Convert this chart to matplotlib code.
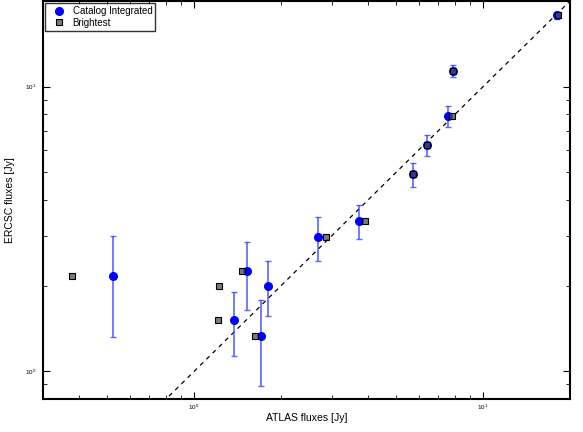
import matplotlib
matplotlib.use("Agg")
import matplotlib.pyplot as plt
import numpy as np

plt.rcParams['font.family'] = ['Liberation Sans', 'DejaVu Sans']

# catalog integrated fluxes (ATLAS x, ERCSC y, asymmetric errors)
cat_x = [0.525, 1.37, 1.53, 1.71, 1.80, 2.69, 3.73, 5.71, 6.39, 7.55, 7.89, 18.1]
cat_y = [2.16, 1.52, 2.25, 1.33, 2.00, 2.96, 3.38, 4.92, 6.24, 7.91, 11.37, 17.8]
cat_hi = [2.99, 1.90, 2.84, 1.78, 2.44, 3.48, 3.83, 5.40, 6.75, 8.55, 11.9, 18.3]
cat_lo = [1.32, 1.13, 1.64, 0.886, 1.56, 2.44, 2.92, 4.46, 5.71, 7.24, 10.83, 17.3]

# brightest source fluxes
br_x = [0.378, 1.22, 1.21, 1.47, 1.63, 2.86, 3.91, 5.71, 6.39, 7.79, 7.89, 18.2]
br_y = [2.16, 2.00, 1.52, 2.25, 1.33, 2.96, 3.38, 4.92, 6.24, 7.91, 11.37, 17.8]

cat_x = np.array(cat_x)
cat_y = np.array(cat_y)
yerr = [cat_y - np.array(cat_lo), np.array(cat_hi) - cat_y]

fig = plt.figure(figsize=(5.83, 4.32), dpi=100)
ax = fig.add_axes([43 / 583, 1 - 399 / 432, 527 / 583, 398 / 432])

ax.errorbar(cat_x, cat_y, yerr=yerr, fmt='none', ecolor=(0.2, 0.25, 1.0, 0.8),
            elinewidth=1.2, capsize=2.3, capthick=1.0, zorder=2)
ax.plot(cat_x, cat_y, 'o', color='blue', markersize=5.5, label='Catalog Integrated', zorder=3)
ax.plot(br_x, br_y, 's', markerfacecolor=(0.3, 0.3, 0.35, 0.75), markeredgecolor='black',
        markeredgewidth=0.8, markersize=4.2, label='Brightest', zorder=4)

line = np.array([0.3, 20.0])
ax.plot(line, line, '--', color='black', linewidth=0.9, dashes=(3.5, 3.5), zorder=1)

ax.set_xscale('log')
ax.set_yscale('log')
ax.set_xlim(0.3, 20)
ax.set_ylim(0.8, 20)

ax.tick_params(which='both', direction='in', top=True, right=True, labelsize=4.5)
ax.tick_params(which='major', length=5, width=0.8)
ax.tick_params(axis='y', which='major', pad=5)
ax.tick_params(axis='x', which='major', pad=3)
ax.tick_params(which='minor', length=3, width=0.6)
ax.xaxis.set_minor_formatter(matplotlib.ticker.NullFormatter())
ax.yaxis.set_minor_formatter(matplotlib.ticker.NullFormatter())
for s in ax.spines.values():
    s.set_linewidth(1.5)

ax.set_xlabel("ATLAS fluxes [Jy]", fontsize=7.5, labelpad=0.5)
ax.set_ylabel("ERCSC fluxes [Jy]", fontsize=7.5, labelpad=7)

leg = ax.legend(loc='upper left', fontsize=7.0, frameon=True, fancybox=False,
                borderpad=0.3, handletextpad=0.4, labelspacing=0.15,
                borderaxespad=0.25, handlelength=2.1)
leg.get_frame().set_edgecolor('black')
leg.get_frame().set_linewidth(1.0)

fig.savefig("out.png", dpi=100)
